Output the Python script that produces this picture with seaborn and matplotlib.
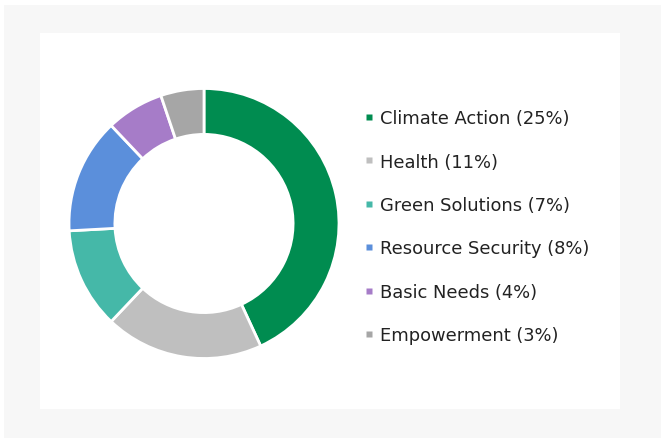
import matplotlib.pyplot as plt
import seaborn as sns
from matplotlib.patches import Rectangle
from matplotlib.lines import Line2D

# Data
categories = ['Climate Action', 'Health', 'Green Solutions',
              'Resource Security', 'Basic Needs', 'Empowerment']
shares = [25, 11, 7, 8, 4, 3]
colors = ['#008C50', '#BFBFBF', '#45B8A8', '#5B8FDB', '#A67CC8', '#A6A6A6']

sns.set_theme(style='white')
plt.rcParams['font.family'] = ['DejaVu Sans']

fig = plt.figure(figsize=(6.61, 4.39), dpi=100)
W, H = 661, 439

# background frame + white card
fig.patches.append(Rectangle((4 / W, 0), 657 / W, 433 / H, transform=fig.transFigure,
                             facecolor='#F7F7F7', edgecolor='none', zorder=-2))
fig.patches.append(Rectangle((40 / W, 29 / H), 580 / W, 376 / H, transform=fig.transFigure,
                             facecolor='white', edgecolor='none', zorder=-1))

ax = fig.add_axes([69 / W, 79.5 / H, 270 / W, 270 / H])
ax.set_facecolor('none')
wedges, _ = ax.pie(shares, colors=colors, startangle=90, counterclock=False,
                   radius=1.0, wedgeprops=dict(width=0.34, edgecolor='white', linewidth=2))
ax.set_xlim(-1, 1)
ax.set_ylim(-1, 1)
ax.set_aspect('equal')
ax.axis('off')

labels = [f'{c} ({s}%)' for c, s in zip(categories, shares)]
handles = [Line2D([], [], marker='s', linestyle='none', markersize=5,
                  markerfacecolor=c, markeredgecolor='none') for c in colors]
fig.legend(handles, labels, loc='upper left', bbox_to_anchor=(356 / W, 1 - 103 / H),
           frameon=False, fontsize=12.9, labelspacing=1.42, handlelength=0.6,
           handletextpad=0.35, labelcolor='#222222', borderaxespad=0)

fig.savefig('out.png', dpi=100)
